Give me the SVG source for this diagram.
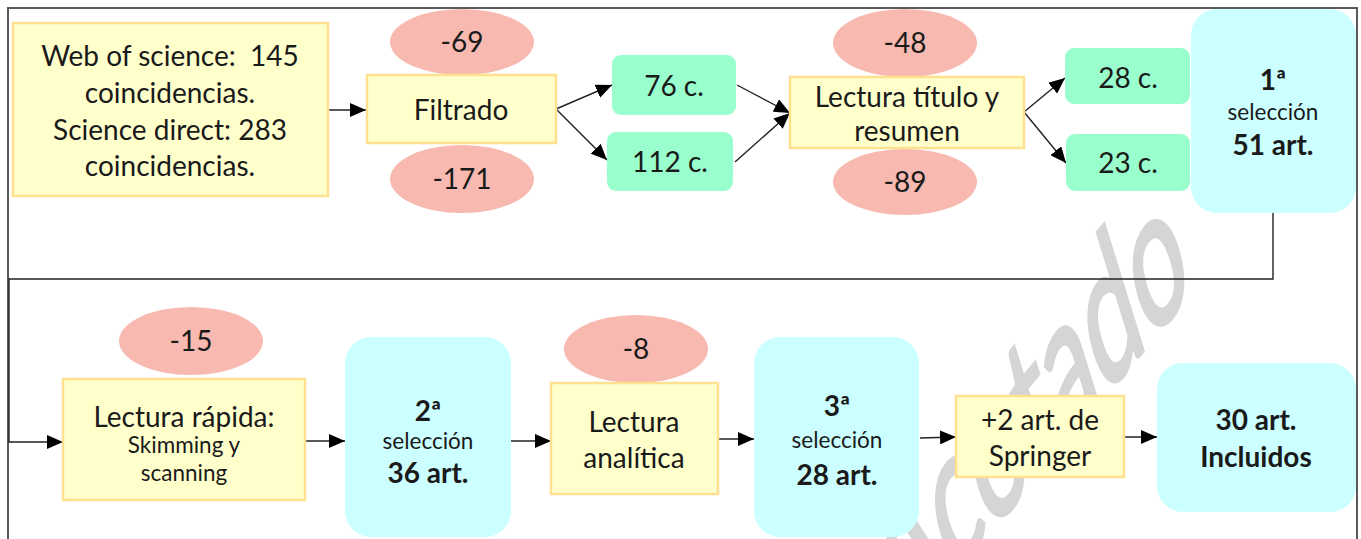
<svg xmlns="http://www.w3.org/2000/svg" width="1361" height="539" viewBox="0 0 1361 539">
<defs>
<marker id="ah" viewBox="0 0 16 14" refX="16" refY="7" markerWidth="16" markerHeight="14" markerUnits="userSpaceOnUse" orient="auto">
<path d="M0,0 L16,7 L0,14 Z" fill="#000"/>
</marker>
<style>
.frame{fill:none;stroke:#5a5a5a;stroke-width:2}
.y{fill:#ffffcc;stroke:#ffe08f;stroke-width:2.5}
.e{fill:#f7b9b0}
.g{fill:#99ffcc}
.c{fill:#ccffff}
.t{font-family:Lato,"Liberation Sans",sans-serif;font-size:28px;fill:#1a1a1a;text-anchor:middle;white-space:pre}
.s{font-size:22.5px}
.b{font-weight:bold}
.con{fill:none;stroke:#222;stroke-width:1.4}
.wm{font-family:Lato,"Liberation Sans",sans-serif;font-size:126px;fill:#c8c8c8;stroke:#c8c8c8;stroke-width:3;opacity:0.75}
</style>
</defs>
<rect width="1361" height="539" fill="#fff"/>
<text class="wm" text-anchor="end" transform="matrix(0.643 -0.766 0.42 1.36 1195 289)">Acotado</text>
<path class="frame" d="M8,560 L8,8 L1357,8 L1357,560"/>
<g id="connectors">
<path class="con" d="M1273,213 L1273,279 L9,279 L9,442 L63,442" marker-end="url(#ah)"/>
<path class="con" d="M328,110 L366,110" marker-end="url(#ah)"/>
<path class="con" d="M556,109 L612,85" marker-end="url(#ah)"/>
<path class="con" d="M556,109 L607,160" marker-end="url(#ah)"/>
<path class="con" d="M737,85 L790,113" marker-end="url(#ah)"/>
<path class="con" d="M735,162 L790,113" marker-end="url(#ah)"/>
<path class="con" d="M1024,112 L1065,78" marker-end="url(#ah)"/>
<path class="con" d="M1024,112 L1066,163" marker-end="url(#ah)"/>
<path class="con" d="M305,441 L345,441" marker-end="url(#ah)"/>
<path class="con" d="M511,441 L551,441" marker-end="url(#ah)"/>
<path class="con" d="M718,439 L754,439" marker-end="url(#ah)"/>
<path class="con" d="M920,438 L956,437" marker-end="url(#ah)"/>
<path class="con" d="M1124,437 L1157,437" marker-end="url(#ah)"/>
</g>
<g id="n-sources">
<rect class="y" x="13" y="23" width="315" height="173"/>
<text class="t" x="170" y="66" xml:space="preserve">Web of science:  145</text>
<text class="t" x="170" y="103">coincidencias.</text>
<text class="t" x="170" y="140">Science direct: 283</text>
<text class="t" x="170" y="176">coincidencias.</text>
</g>
<g id="n-m69"><ellipse class="e" cx="462" cy="42" rx="72" ry="33"/><text class="t" x="462" y="52">-69</text></g>
<g id="n-filtrado"><rect class="y" x="367" y="75" width="189" height="68"/><text class="t" x="461" y="120">Filtrado</text></g>
<g id="n-m171"><ellipse class="e" cx="462" cy="179" rx="72" ry="34"/><text class="t" x="462" y="189">-171</text></g>
<g id="n-76"><rect class="g" x="612" y="55" width="124" height="60" rx="9"/><text class="t" x="674" y="96">76 c.</text></g>
<g id="n-112"><rect class="g" x="607" y="132" width="126" height="59" rx="9"/><text class="t" x="670" y="172">112 c.</text></g>
<g id="n-m48"><ellipse class="e" cx="905" cy="43" rx="72" ry="34"/><text class="t" x="905" y="53">-48</text></g>
<g id="n-lectura-titulo"><rect class="y" x="790" y="77" width="234" height="71"/><text class="t" x="907" y="107">Lectura título y</text><text class="t" x="907" y="141">resumen</text></g>
<g id="n-m89"><ellipse class="e" cx="905" cy="182" rx="72" ry="33"/><text class="t" x="905" y="192">-89</text></g>
<g id="n-28"><rect class="g" x="1065" y="48" width="125" height="56" rx="9"/><text class="t" x="1128" y="88">28 c.</text></g>
<g id="n-23"><rect class="g" x="1066" y="134" width="124" height="57" rx="9"/><text class="t" x="1128" y="173">23 c.</text></g>
<g id="n-sel1"><rect class="c" x="1191" y="9" width="165" height="204" rx="26"/><text class="t b" x="1273" y="90">1ª</text><text class="t s" x="1273" y="120">selección</text><text class="t b" x="1273" y="155">51 art.</text></g>
<g id="n-m15"><ellipse class="e" cx="191" cy="341" rx="72" ry="34"/><text class="t" x="191" y="351">-15</text></g>
<g id="n-rapida"><rect class="y" x="63" y="379" width="242" height="121"/><text class="t" x="184" y="427">Lectura rápida:</text><text class="t s" x="184" y="453">Skimming y</text><text class="t s" x="184" y="481">scanning</text></g>
<g id="n-sel2"><rect class="c" x="345" y="337" width="166" height="200" rx="26"/><text class="t b" x="428" y="421">2ª</text><text class="t s" x="428" y="449">selección</text><text class="t b" x="428" y="483">36 art.</text></g>
<g id="n-m8"><ellipse class="e" cx="636" cy="349" rx="72" ry="34"/><text class="t" x="636" y="359">-8</text></g>
<g id="n-analitica"><rect class="y" x="551" y="383" width="167" height="111"/><text class="t" x="634" y="432">Lectura</text><text class="t" x="634" y="468">analítica</text></g>
<g id="n-sel3"><rect class="c" x="754" y="337" width="165" height="200" rx="26"/><text class="t b" x="837" y="416">3ª</text><text class="t s" x="837" y="448">selección</text><text class="t b" x="837" y="485">28 art.</text></g>
<g id="n-springer"><rect class="y" x="956" y="396" width="168" height="81"/><text class="t" x="1040" y="430">+2 art. de</text><text class="t" x="1040" y="466">Springer</text></g>
<g id="n-incluidos"><rect class="c" x="1157" y="363" width="199" height="149" rx="26"/><text class="t b" x="1256" y="430">30 art.</text><text class="t b" x="1256" y="467">Incluidos</text></g>
</svg>
